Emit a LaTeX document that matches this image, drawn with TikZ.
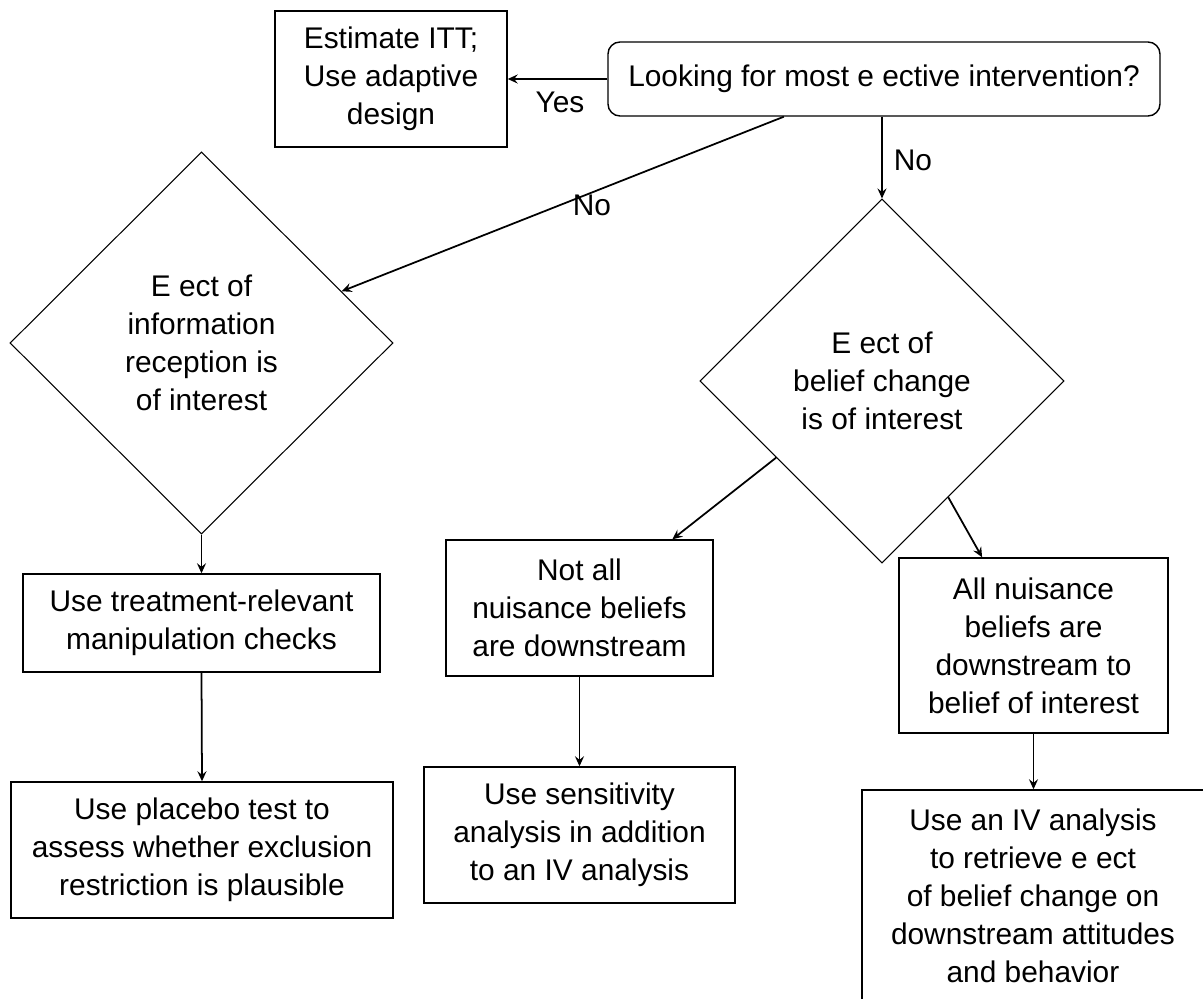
\documentclass[tikz,border=0pt]{standalone}
\usepackage{fontspec}
\setmainfont{Liberation Sans}
\usetikzlibrary{shapes.geometric, arrows.meta, calc}

\begin{document}
\begin{tikzpicture}[
  font=\fontsize{17}{21.6}\selectfont,
  box/.style={draw, line width=0.8pt, align=center, inner sep=0pt},
  decision/.style={draw, diamond, line width=0.6pt, align=center, inner sep=0pt},
  arrow/.style={line width=1pt, -{Stealth[length=2mm, width=1.8mm, inset=0.7mm]}}
]
\useasboundingbox (0,0) rectangle (24.06,-19.98);
\clip (0,0) rectangle (24.06,-19.98);

\node [box, rounded corners=0.24cm, minimum width=11.04cm, minimum height=1.48cm] (Q) at (17.68,-1.58) {Looking for most e ective intervention?};
\node [box, minimum width=4.64cm, minimum height=2.72cm] (T) at (7.82,-1.58) {Estimate ITT;\\Use adaptive\\design};

\node [decision, minimum width=7.66cm, minimum height=7.64cm] (D1) at (4.03,-6.86) {E ect of\\information\\reception is\\of interest};
\node [decision, minimum width=7.28cm, minimum height=7.28cm] (D2) at (17.64,-7.62) {E ect of\\belief change\\is of interest};

\node [box, minimum width=7.14cm, minimum height=1.96cm] (M) at (4.03,-12.46) {Use treatment-relevant\\manipulation checks};
\node [box, minimum width=7.64cm, minimum height=2.72cm] (P) at (4.04,-17.0) {Use placebo test to\\assess whether exclusion\\restriction is plausible};

\node [box, minimum width=5.34cm, minimum height=2.72cm] (N) at (11.59,-12.16) {Not all\\nuisance beliefs\\are downstream};
\node [box, minimum width=6.22cm, minimum height=2.72cm] (S) at (11.59,-16.7) {Use sensitivity\\analysis in addition\\to an IV analysis};

\node [box, minimum width=5.38cm, minimum height=3.5cm] (A) at (20.67,-12.91) {All nuisance\\beliefs are\\downstream to\\belief of interest};
\node [box, minimum width=6.84cm, minimum height=4.24cm] (V) at (20.66,-17.92) {Use an IV analysis\\to retrieve e ect\\of belief change on\\downstream attitudes\\and behavior};

\draw [arrow] (Q.west) -- (T.east);
\draw [arrow] ($(Q.south west)!0.319!(Q.south east)$) -- ($(D1.north)!0.73!(D1.east)$);
\draw [arrow] (Q.south -| D2.north) -- (D2.north);

\draw [arrow] (D1.south) -- (M.north);
\draw [arrow] (M.south) -- (P.north);

\draw [arrow] ($(D2.west)!0.42!(D2.south)$) -- ($(N.north west)!0.846!(N.north east)$);
\draw [arrow] ($(D2.south)!0.363!(D2.east)$) -- ($(A.north west)!0.31!(A.north east)$);
\draw [arrow] (N.south) -- (S.north);
\draw [arrow] (A.south) -- (A.south |- V.north);

\node (yes) at (11.2,-2.04) {Yes};
\node (no1) at (11.84,-4.1) {No};
\node (no2) at (18.26,-3.2) {No};

\end{tikzpicture}
\end{document}
